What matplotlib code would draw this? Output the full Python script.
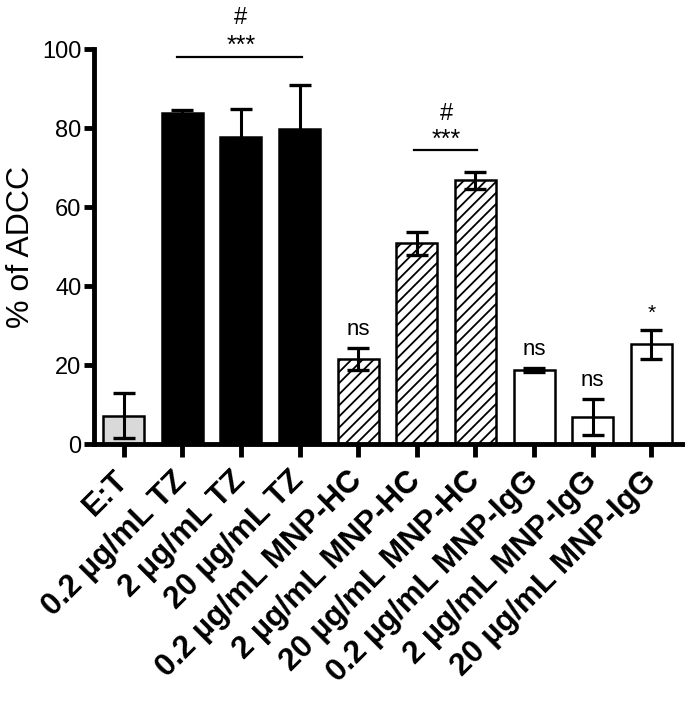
import numpy as np
import matplotlib
matplotlib.use('Agg')
import matplotlib.pyplot as plt

plt.rcParams['font.family'] = ['Liberation Sans', 'DejaVu Sans']
plt.rcParams['hatch.linewidth'] = 1.3

# data
labels = ['E:T', '0.2 µg/mL TZ', '2 µg/mL TZ', '20 µg/mL TZ',
          '0.2 µg/mL MNP-HC', '2 µg/mL MNP-HC', '20 µg/mL MNP-HC',
          '0.2 µg/mL MNP-IgG', '2 µg/mL MNP-IgG', '20 µg/mL MNP-IgG']
means = [7.2, 83.8, 77.8, 79.8, 21.6, 50.8, 66.8, 18.7, 6.8, 25.2]
errs = [5.6, 0.8, 7.0, 11.0, 2.8, 3.0, 2.2, 0.5, 4.6, 3.6]
groups = ['ctrl', 'tz', 'tz', 'tz', 'hc', 'hc', 'hc', 'igg', 'igg', 'igg']
marks = {4: 'ns', 7: 'ns', 8: 'ns', 9: '*'}

face = {'ctrl': '#d9d9d9', 'tz': 'black', 'hc': 'white', 'igg': 'white'}
hatch = {'ctrl': None, 'tz': None, 'hc': '///', 'igg': None}

fig = plt.figure(figsize=(6.85, 7.04), dpi=100)
ax = fig.add_axes([0.137, 0.3693, 0.86, 0.561])

x = np.arange(len(labels))
for i in range(len(labels)):
    g = groups[i]
    ax.bar(x[i], means[i], width=0.70, color=face[g], edgecolor='black',
           linewidth=1.8, hatch=hatch[g], zorder=2)
ax.errorbar(x, means, yerr=errs, fmt='none', ecolor='black', elinewidth=2.2,
            capsize=8, capthick=2.4, zorder=3)

# significance
for i, t in marks.items():
    ax.text(x[i], means[i] + errs[i] + 2.0, t, ha='center', va='bottom',
            fontsize=16 if t == 'ns' else 15)

ax.plot([0.91, 3.04], [98.1, 98.1], color='black', lw=1.6, clip_on=False)
ax.text(2.0, 97.7, '***', ha='center', va='bottom', fontsize=18, clip_on=False)
ax.text(2.0, 105.0, '#', ha='center', va='bottom', fontsize=17, clip_on=False)
ax.plot([4.96, 6.02], [74.4, 74.4], color='black', lw=1.6)
ax.text(5.5, 74.0, '***', ha='center', va='bottom', fontsize=18)
ax.text(5.5, 80.8, '#', ha='center', va='bottom', fontsize=17)

ax.set_xlim(-0.51, 9.54)
ax.set_ylim(0, 100)
ax.set_yticks([0, 20, 40, 60, 80, 100])
ax.set_xticks(x)
ax.set_xticklabels(labels, rotation=45, ha='right', va='center',
                   rotation_mode='anchor', fontsize=22.5, fontweight='bold')
ax.tick_params(axis='x', length=9, width=3.5, pad=14)
ax.tick_params(axis='y', length=7, width=3.5, labelsize=17, pad=2)
ax.set_ylabel('% of ADCC', fontsize=23, labelpad=4)

for s in ['top', 'right']:
    ax.spines[s].set_visible(False)
for s in ['left', 'bottom']:
    ax.spines[s].set_linewidth(3.5)

plt.savefig('out.png', dpi=100)
